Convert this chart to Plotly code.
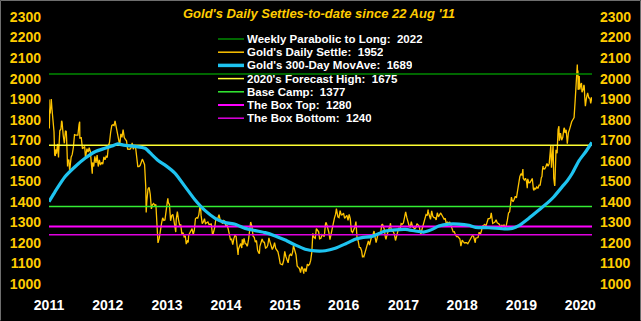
import plotly.graph_objects as go

# ---------------- data ----------------
settle_dates = [
 "2011-08-22","2011-08-24","2011-08-26","2011-08-30","2011-09-02","2011-09-05","2011-09-09","2011-09-13","2011-09-16","2011-09-22",
 "2011-09-26","2011-09-30","2011-10-04","2011-10-07","2011-10-14","2011-10-20","2011-10-21","2011-10-28","2011-11-04","2011-11-08",
 "2011-11-11","2011-11-18","2011-11-23","2011-11-25","2011-12-02","2011-12-07","2011-12-09","2011-12-15","2011-12-16","2011-12-23",
 "2011-12-29","2011-12-30",
 "2012-01-06","2012-01-13","2012-01-20","2012-01-27","2012-02-03","2012-02-10","2012-02-17","2012-02-24","2012-02-28","2012-02-29",
 "2012-03-09","2012-03-16","2012-03-23","2012-03-30","2012-04-04","2012-04-13","2012-04-20","2012-04-27","2012-05-04","2012-05-11",
 "2012-05-16","2012-05-18","2012-05-25","2012-06-01","2012-06-08","2012-06-15","2012-06-22","2012-06-29","2012-07-06","2012-07-13",
 "2012-07-20","2012-07-27","2012-08-03","2012-08-10","2012-08-17","2012-08-24","2012-08-31","2012-09-07","2012-09-14","2012-09-21",
 "2012-09-28","2012-10-04","2012-10-12","2012-10-19","2012-10-26","2012-11-02","2012-11-09","2012-11-16","2012-11-23","2012-11-30",
 "2012-12-07","2012-12-14","2012-12-21","2012-12-28",
 "2013-01-04","2013-01-11","2013-01-18","2013-01-25","2013-02-01","2013-02-08","2013-02-15","2013-02-20","2013-02-22","2013-03-01",
 "2013-03-08","2013-03-15","2013-03-22","2013-03-28","2013-04-05","2013-04-12","2013-04-15","2013-04-19","2013-04-26","2013-05-03",
 "2013-05-10","2013-05-17","2013-05-24","2013-05-31","2013-06-07","2013-06-14","2013-06-21","2013-06-27","2013-07-05","2013-07-12",
 "2013-07-19","2013-07-26","2013-08-02","2013-08-09","2013-08-16","2013-08-23","2013-08-27","2013-08-30","2013-09-06","2013-09-13",
 "2013-09-20","2013-09-27","2013-10-04","2013-10-11","2013-10-15","2013-10-18","2013-10-25","2013-11-01","2013-11-08","2013-11-15",
 "2013-11-22","2013-11-29","2013-12-06","2013-12-13","2013-12-19","2013-12-27","2013-12-31",
 "2014-01-03","2014-01-10","2014-01-17","2014-01-24","2014-01-31","2014-02-07","2014-02-14","2014-02-21","2014-02-28","2014-03-07",
 "2014-03-14","2014-03-17","2014-03-21","2014-03-28","2014-04-04","2014-04-11","2014-04-17","2014-04-25","2014-05-02","2014-05-09",
 "2014-05-16","2014-05-23","2014-05-30","2014-06-03","2014-06-06","2014-06-13","2014-06-20","2014-06-27","2014-07-03","2014-07-10",
 "2014-07-18","2014-07-25","2014-08-01","2014-08-08","2014-08-15","2014-08-22","2014-08-29","2014-09-05","2014-09-12","2014-09-19",
 "2014-09-26","2014-10-03","2014-10-10","2014-10-17","2014-10-24","2014-10-31","2014-11-05","2014-11-07","2014-11-14","2014-11-21",
 "2014-11-28","2014-12-01","2014-12-05","2014-12-12","2014-12-19","2014-12-26","2014-12-31",
 "2015-01-02","2015-01-09","2015-01-16","2015-01-22","2015-01-30","2015-02-06","2015-02-13","2015-02-20","2015-02-27","2015-03-06",
 "2015-03-13","2015-03-17","2015-03-20","2015-03-27","2015-04-03","2015-04-10","2015-04-17","2015-04-24","2015-05-01","2015-05-08",
 "2015-05-15","2015-05-22","2015-05-29","2015-06-05","2015-06-12","2015-06-19","2015-06-26","2015-07-02","2015-07-10","2015-07-17",
 "2015-07-24","2015-07-31","2015-08-07","2015-08-14","2015-08-21","2015-08-28","2015-09-04","2015-09-11","2015-09-18","2015-09-25",
 "2015-10-02","2015-10-09","2015-10-14","2015-10-16","2015-10-23","2015-10-30","2015-11-06","2015-11-13","2015-11-20","2015-11-27",
 "2015-12-04","2015-12-11","2015-12-17","2015-12-18","2015-12-24","2015-12-31",
 "2016-01-08","2016-01-15","2016-01-22","2016-01-29","2016-02-05","2016-02-11","2016-02-12","2016-02-19","2016-02-26","2016-03-04",
 "2016-03-11","2016-03-18","2016-03-24","2016-04-01","2016-04-08","2016-04-15","2016-04-22","2016-04-29","2016-05-02","2016-05-06",
 "2016-05-13","2016-05-20","2016-05-27","2016-06-03","2016-06-10","2016-06-17","2016-06-24","2016-07-01","2016-07-06","2016-07-08",
 "2016-07-15","2016-07-22","2016-07-29","2016-08-05","2016-08-12","2016-08-19","2016-08-26","2016-09-02","2016-09-09","2016-09-16",
 "2016-09-23","2016-09-30","2016-10-07","2016-10-14","2016-10-21","2016-10-28","2016-11-04","2016-11-11","2016-11-18","2016-11-25",
 "2016-12-02","2016-12-09","2016-12-15","2016-12-16","2016-12-23","2016-12-30",
 "2017-01-06","2017-01-13","2017-01-20","2017-01-27","2017-02-03","2017-02-10","2017-02-17","2017-02-24","2017-03-03","2017-03-09",
 "2017-03-17","2017-03-24","2017-03-31","2017-04-07","2017-04-13","2017-04-17","2017-04-21","2017-04-28","2017-05-05","2017-05-09",
 "2017-05-12","2017-05-19","2017-05-26","2017-06-02","2017-06-06","2017-06-09","2017-06-16","2017-06-23","2017-06-30","2017-07-07",
 "2017-07-14","2017-07-21","2017-07-28","2017-08-04","2017-08-11","2017-08-18","2017-08-25","2017-09-01","2017-09-08","2017-09-15",
 "2017-09-22","2017-09-29","2017-10-06","2017-10-13","2017-10-20","2017-10-27","2017-11-03","2017-11-10","2017-11-17","2017-11-24",
 "2017-12-01","2017-12-08","2017-12-12","2017-12-15","2017-12-22","2017-12-29",
 "2018-01-05","2018-01-12","2018-01-19","2018-01-25","2018-01-26","2018-02-02","2018-02-09","2018-02-16","2018-02-23","2018-03-02",
 "2018-03-09","2018-03-16","2018-03-23","2018-03-30","2018-04-06","2018-04-13","2018-04-20","2018-04-27","2018-05-04","2018-05-11",
 "2018-05-18","2018-05-25","2018-06-01","2018-06-08","2018-06-15","2018-06-22","2018-06-29","2018-07-06","2018-07-13","2018-07-20",
 "2018-07-27","2018-08-03","2018-08-10","2018-08-16","2018-08-17","2018-08-24","2018-08-31","2018-09-07","2018-09-14","2018-09-21",
 "2018-09-28","2018-10-05","2018-10-12","2018-10-19","2018-10-26","2018-11-02","2018-11-09","2018-11-13","2018-11-16","2018-11-23",
 "2018-11-30","2018-12-07","2018-12-14","2018-12-21","2018-12-28",
 "2019-01-04","2019-01-11","2019-01-18","2019-01-25","2019-02-01","2019-02-08","2019-02-15","2019-02-20","2019-02-22","2019-03-01",
 "2019-03-08","2019-03-15","2019-03-22","2019-03-29","2019-04-05","2019-04-12","2019-04-23","2019-04-26","2019-05-03","2019-05-10",
 "2019-05-17","2019-05-24","2019-05-31","2019-06-07","2019-06-14","2019-06-21","2019-06-25","2019-06-28","2019-07-05","2019-07-12",
 "2019-07-19","2019-07-26","2019-08-02","2019-08-09","2019-08-16","2019-08-23","2019-08-30","2019-09-04","2019-09-06","2019-09-13",
 "2019-09-20","2019-09-27","2019-10-01","2019-10-04","2019-10-11","2019-10-18","2019-10-25","2019-11-01","2019-11-08","2019-11-12",
 "2019-11-15","2019-11-22","2019-11-29","2019-12-06","2019-12-13","2019-12-20","2019-12-27","2019-12-31",
 "2020-01-03","2020-01-07","2020-01-08","2020-01-10","2020-01-17","2020-01-24","2020-01-31","2020-02-07","2020-02-14","2020-02-21",
 "2020-02-24","2020-02-28","2020-03-06","2020-03-09","2020-03-13","2020-03-19","2020-03-20","2020-03-27","2020-04-03","2020-04-09",
 "2020-04-14","2020-04-17","2020-04-24","2020-05-01","2020-05-08","2020-05-15","2020-05-18","2020-05-22","2020-05-29","2020-06-05",
 "2020-06-12","2020-06-19","2020-06-26","2020-07-02","2020-07-10","2020-07-17","2020-07-24","2020-07-28","2020-07-31","2020-08-06",
 "2020-08-07","2020-08-10","2020-08-11","2020-08-14","2020-08-18","2020-08-21","2020-08-28","2020-09-01","2020-09-04","2020-09-11",
 "2020-09-16","2020-09-18","2020-09-21","2020-09-23","2020-09-25","2020-10-02","2020-10-09","2020-10-16","2020-10-23","2020-10-28",
 "2020-11-02","2020-11-04",
]
settle_values = [
 1898,1757,1828,1834,1876,1900,1856,1829,1813,1741,
 1628,1624,1656,1635,1682,1616,1642,1746,1755,1795,
 1788,1724,1698,1685,1746,1742,1710,1572,1597,1606,
 1540,1566,
 1617,1631,1665,1727,1725,1725,1725,1776,1790,1711,
 1712,1659,1662,1669,1615,1659,1642,1664,1645,1581,
 1537,1592,1572,1622,1590,1628,1572,1604,1579,1592,
 1584,1619,1605,1622,1616,1672,1691,1740,1772,1775,
 1772,1794,1758,1724,1712,1676,1731,1714,1752,1713,
 1704,1697,1657,1656,
 1656,1662,1687,1657,1667,1667,1609,1578,1572,1572,
 1577,1592,1608,1598,1581,1476,1348,1405,1462,1470,
 1437,1366,1387,1392,1383,1387,1298,1200,1223,1277,
 1295,1322,1310,1312,1371,1395,1417,1396,1387,1308,
 1333,1339,1309,1268,1253,1315,1352,1314,1287,1288,
 1244,1250,1230,1235,1194,1213,1202,
 1238,1248,1254,1270,1240,1262,1318,1323,1321,1338,
 1379,1385,1334,1294,1302,1318,1294,1300,1302,1290,
 1293,1292,1245,1244,1252,1274,1315,1316,1320,1338,
 1310,1303,1294,1309,1306,1280,1287,1267,1231,1216,
 1218,1192,1221,1238,1231,1171,1141,1169,1185,1197,
 1175,1218,1191,1222,1196,1195,1184,
 1186,1217,1277,1302,1279,1233,1227,1204,1212,1164,
 1152,1148,1183,1199,1219,1205,1203,1175,1178,1188,
 1225,1204,1189,1168,1180,1201,1173,1163,1157,1131,
 1099,1095,1094,1113,1159,1134,1121,1103,1137,1145,
 1137,1156,1187,1177,1162,1142,1088,1081,1076,1056,
 1085,1075,1050,1065,1076,1060,
 1097,1090,1096,1116,1157,1247,1239,1226,1222,1270,
 1259,1254,1220,1223,1240,1235,1231,1290,1300,1294,
 1273,1252,1216,1244,1276,1298,1322,1340,1367,1358,
 1327,1323,1357,1336,1338,1345,1320,1327,1334,1310,
 1339,1317,1257,1251,1267,1276,1304,1224,1209,1178,
 1177,1162,1130,1137,1133,1152,
 1173,1196,1210,1190,1220,1234,1239,1258,1226,1201,
 1230,1249,1249,1254,1288,1292,1284,1268,1228,1217,
 1228,1255,1267,1280,1296,1271,1256,1256,1242,1212,
 1228,1255,1274,1264,1294,1291,1297,1330,1351,1324,
 1297,1284,1275,1304,1280,1272,1269,1274,1294,1288,
 1280,1249,1242,1257,1278,1309,
 1322,1338,1333,1362,1351,1332,1315,1356,1330,1323,
 1323,1312,1347,1327,1336,1346,1336,1323,1315,1320,
 1291,1303,1294,1302,1279,1271,1254,1255,1241,1231,
 1232,1223,1219,1184,1192,1213,1206,1200,1201,1201,
 1196,1207,1222,1229,1236,1233,1210,1201,1223,1223,
 1226,1252,1241,1258,1282,
 1286,1290,1282,1303,1318,1318,1322,1346,1329,1295,
 1298,1302,1313,1298,1295,1290,1270,1288,1280,1287,
 1276,1284,1311,1346,1352,1400,1423,1413,1400,1413,
 1427,1419,1457,1509,1523,1537,1529,1560,1515,1506,
 1515,1497,1466,1512,1493,1494,1505,1514,1462,1456,
 1468,1463,1473,1465,1481,1481,1518,1523,
 1553,1574,1560,1562,1560,1571,1587,1573,1586,1648,
 1676,1566,1672,1675,1516,1478,1484,1653,1637,1752,
 1768,1698,1735,1700,1714,1756,1760,1735,1751,1683,
 1737,1753,1781,1790,1801,1810,1897,1944,1986,2069,
 2028,2039,1946,1951,2013,1947,1973,1978,1934,1947,
 1970,1962,1911,1868,1866,1907,1930,1906,1905,1879,
 1894,1910,
]

ma_dates = [
 "2011-08-22","2011-09-28","2011-11-29","2012-01-30","2012-04-01","2012-06-02","2012-08-03","2012-09-14","2012-10-21","2012-11-25",
 "2013-02-05","2013-04-08","2013-05-20","2013-06-30","2013-08-10","2013-10-11","2013-12-12","2014-02-12","2014-04-15","2014-06-16",
 "2014-08-17","2014-10-18","2014-12-19","2015-02-19","2015-04-22","2015-06-23","2015-08-24","2015-10-25","2015-12-26","2016-02-26",
 "2016-04-28","2016-06-29","2016-08-30","2016-10-31","2016-12-11","2017-02-11","2017-05-05","2017-07-06","2017-09-06","2017-11-07",
 "2017-12-28","2018-02-19","2018-04-01","2018-06-02","2018-08-03","2018-10-04","2018-11-15","2019-02-05","2019-05-20","2019-06-30",
 "2019-08-10","2019-10-11","2019-12-12","2020-02-12","2020-03-14","2020-05-05","2020-06-05","2020-07-06","2020-08-16","2020-09-27",
 "2020-11-04",
]
ma_values = [
 1401,1449,1522,1571,1612,1644,1661,1672,1682,1676,
 1670,1661,1630,1600,1579,1539,1474,1409,1357,1320,
 1299,1291,1271,1260,1250,1234,1214,1190,1169,1161,
 1162,1174,1195,1218,1226,1232,1258,1264,1266,1258,
 1253,1266,1282,1292,1292,1286,1276,1274,1268,1271,
 1284,1320,1360,1401,1425,1474,1503,1539,1600,1644,
 1689,
]

level_names = ["Weekly Parabolic to Long", "Gold's Daily Settle", "Gold's 300-Day MovAve",
               "2020's Forecast High", "Base Camp", "The Box Top", "The Box Bottom"]
level_values = [2022, 1952, 1689, 1675, 1377, 1280, 1240]
level_colors = ["#008A00", "#FFC400", "#1EC3F0", "#FFFF33", "#33EE33", "#FF00FF", "#E000E0"]
level_widths = [1.5, 1.5, 3.5, 1.5, 1.5, 2.0, 1.5]
level_drawn = [True, False, False, True, True, True, True]

year_tick_dates = ["2011-08-22","2012-08-20","2013-08-22","2014-08-22","2015-08-23",
                   "2016-08-20","2017-08-26","2018-08-24","2019-08-26","2020-08-24"]
year_labels = ["2011","2012","2013","2014","2015","2016","2017","2018","2019","2020"]
price_ticks = [1000,1100,1200,1300,1400,1500,1600,1700,1800,1900,2000,2100,2200,2300]

title_text = "Gold's Daily Settles-to-date since 22 Aug '11"

X_START, X_END = "2011-08-22", "2020-11-05"
Y_RANGE = [946.5, 2358.4]

FONT = "Liberation Sans, Arial, sans-serif"
GOLD = "#FFC400"
TICKGOLD = "#FFCC00"

# ---------------- figure ----------------
fig = go.Figure()

fig.add_trace(go.Scatter(x=settle_dates, y=settle_values, mode="lines",
                         line=dict(color=GOLD, width=1.3), showlegend=False,
                         hoverinfo="skip"))

for name, val, col, w, drawn in zip(level_names, level_values, level_colors,
                                    level_widths, level_drawn):
    if drawn:
        fig.add_trace(go.Scatter(x=[X_START, X_END], y=[val, val], mode="lines",
                                 line=dict(color=col, width=w), showlegend=False,
                                 hoverinfo="skip"))

fig.add_trace(go.Scatter(x=ma_dates, y=ma_values, mode="lines",
                         line=dict(color=level_colors[2], width=3.2, shape="spline", smoothing=0.6),
                         showlegend=False, hoverinfo="skip"))

# invisible trace for the right-hand axis
fig.add_trace(go.Scatter(x=[X_START], y=[level_values[0]], yaxis="y2", mode="markers",
                         marker=dict(opacity=0), showlegend=False, hoverinfo="skip"))

# ---- manual legend ----
W_PLOT, H_PLOT, L, T = 543, 290, 49, 5
def px_x(p):
    return (p - L) / W_PLOT
def px_y(p):
    return (T + H_PLOT - p) / H_PLOT

annotations = []
shapes = []
row_y = [39, 52.2, 65.4, 78.6, 91.8, 105, 118.2]
for i, (name, val, col, w) in enumerate(zip(level_names, level_values, level_colors, level_widths)):
    yy = px_y(row_y[i])
    shapes.append(dict(type="line", xref="paper", yref="paper",
                       x0=px_x(218), x1=px_x(244), y0=yy, y1=yy,
                       line=dict(color=col, width=w)))
    annotations.append(dict(xref="paper", yref="paper", x=px_x(246), y=yy,
                            xanchor="left", yanchor="middle", showarrow=False,
                            height=12, borderpad=0,
                            text=f"<b>{name}:\u00a0\u00a0{val}</b>",
                            font=dict(family=FONT, size=11.5, color="white")))

annotations.append(dict(xref="paper", yref="paper", x=px_x(319), y=px_y(13),
                        xanchor="center", yanchor="middle", showarrow=False,
                        text=f"<b><i>{title_text}</i></b>",
                        font=dict(family=FONT, size=13, color=TICKGOLD)))

# outer frame (left, top, right)
fl, fr = px_x(0.5), px_x(640.5)
ft, fb = px_y(0.5), px_y(320.5)
shapes.append(dict(type="path", xref="paper", yref="paper",
                   path=f"M {fl} {fb} L {fl} {ft} L {fr} {ft} L {fr} {fb}",
                   line=dict(color="#6E6E6E", width=1)))

yaxis_common = dict(range=Y_RANGE, tickvals=price_ticks, ticktext=[str(v) for v in price_ticks],
                    tickfont=dict(family=FONT, size=14, color=TICKGOLD, weight="bold"),
                    showgrid=False, zeroline=False, showline=False, ticks="",
                    ticklabelstandoff=7, fixedrange=True)

fig.update_layout(
    width=641, height=321, autosize=False,
    margin=dict(l=L, r=641 - L - W_PLOT, t=T, b=321 - T - H_PLOT, pad=0),
    paper_bgcolor="black", plot_bgcolor="black",
    xaxis=dict(type="date", range=[X_START, X_END], tickvals=year_tick_dates, ticktext=year_labels,
               tickfont=dict(family=FONT, size=14, color="white", weight="bold"),
               showgrid=False, zeroline=False, showline=False, ticks="", tickangle=0),
    yaxis=dict(**yaxis_common, side="left"),
    yaxis2=dict(**yaxis_common, side="right", overlaying="y", anchor="x"),
    annotations=annotations, shapes=shapes,
    showlegend=False,
)

fig.write_html("out.html", config={"displayModeBar": False})
